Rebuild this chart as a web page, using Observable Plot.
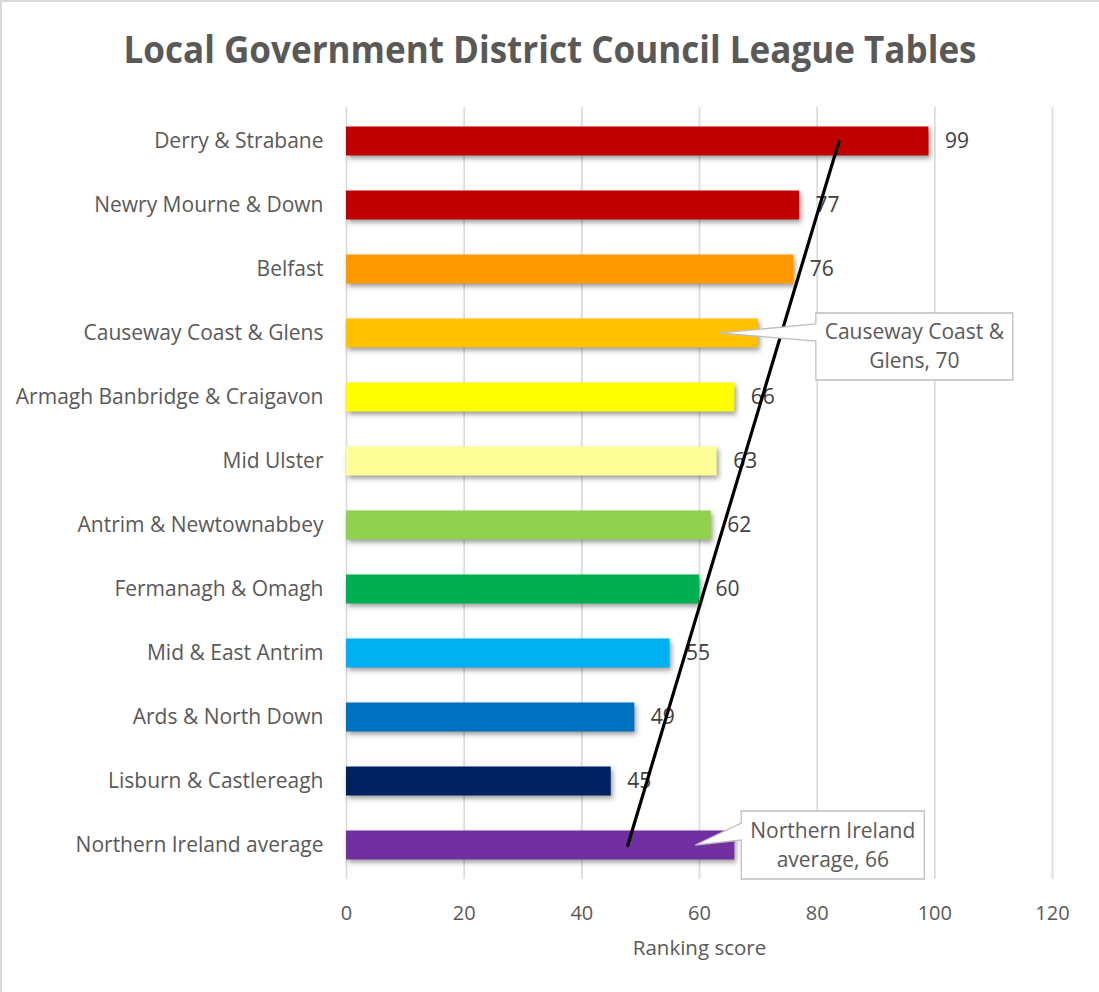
<!DOCTYPE html>
<html>
<head>
<meta charset="utf-8">
<script src="https://cdn.jsdelivr.net/npm/d3@7"></script>
<script src="https://cdn.jsdelivr.net/npm/@observablehq/plot@0.6"></script>
<style>
  html, body { margin: 0; padding: 0; background: #fff; }
  #chart { position: relative; width: 1099px; height: 992px; overflow: hidden; background: #fff; font-family: "Open Sans", sans-serif; }
  #borderTop { position: absolute; left: 0; top: 0; width: 1099px; height: 2px; background: #d9d9d9; z-index: 5; }
  #borderLeft { position: absolute; left: 0; top: 0; width: 2px; height: 992px; background: #d9d9d9; z-index: 5; }
  #titleBox { position: absolute; left: 0; top: 0; width: 1099px; height: 100px; }
  #plotBox { position: absolute; left: 0; top: 100px; }
  #plotBox g[aria-label="bar"] rect { filter: drop-shadow(2px 3px 2.5px rgba(0,0,0,0.38)); }
</style>
</head>
<body>
<div id="chart">
  <div id="titleBox"></div>
  <div id="plotBox"></div>
  <div id="borderTop"></div>
  <div id="borderLeft"></div>
</div>
<script>
// ---- Data ----
const titleText = "Local Government District Council League Tables";
const xLabel = "Ranking score";
const categories = [
  "Derry & Strabane",
  "Newry Mourne & Down",
  "Belfast",
  "Causeway Coast & Glens",
  "Armagh Banbridge & Craigavon",
  "Mid Ulster",
  "Antrim & Newtownabbey",
  "Fermanagh & Omagh",
  "Mid & East Antrim",
  "Ards & North Down",
  "Lisburn & Castlereagh",
  "Northern Ireland average"
];
const scores = [99, 77, 76, 70, 66, 63, 62, 60, 55, 49, 45, 66];
const barColors = [
  "#C00000", "#C00000", "#FF9900", "#FFC000", "#FFFF00", "#FFFF99",
  "#92D050", "#00B050", "#00B0F0", "#0070C0", "#002060", "#7030A0"
];
const xTicks = [0, 20, 40, 60, 80, 100, 120];
// Hand-drawn black line (data coordinates)
const trendX = [47.8, 83.7];
const trendY = ["Northern Ireland average", "Derry & Strabane"];
// Categories whose value label is shown as a callout
const calloutCategories = ["Causeway Coast & Glens", "Northern Ireland average"];

// ---- Build table ----
const data = categories.map((c, i) => ({category: c, value: scores[i], color: barColors[i]}));
const plainLabels = data.filter(d => !calloutCategories.includes(d.category));

// callout layout (pixel offsets from bar end / band centre)
const calloutLayout = [
  {tipDx: -39, boxDx: 58, boxW: 197, boxTop: -20, boxH: 67, baseTop: -9, baseBottom: 8},
  {tipDx: -39, boxDx: 7, boxW: 183, boxTop: -34, boxH: 68, baseTop: -22, baseBottom: -5}
];

function wrapText(s, maxChars) {
  const words = s.split(" ");
  const lines = [];
  let cur = "";
  for (const w of words) {
    if (cur && (cur + " " + w).length > maxChars) { lines.push(cur); cur = w; }
    else cur = cur ? cur + " " + w : w;
  }
  if (cur) lines.push(cur);
  return lines;
}

function calloutMark(index, scales, values, dimensions, context) {
  const g = d3.create("svg:g").attr("aria-label", "callouts");
  const xs = scales.x, ys = scales.y;
  const bw = ys.bandwidth ? ys.bandwidth() : 0;
  calloutCategories.forEach((cat, i) => {
    const d = data.find(r => r.category === cat);
    const L = calloutLayout[i];
    const xe = xs(d.value);
    const yc = ys(cat) + bw / 2;
    const tipX = xe + L.tipDx, tipY = yc;
    const bx = xe + L.boxDx, by = yc + L.boxTop;
    const path = [
      [bx, by], [bx + L.boxW, by], [bx + L.boxW, by + L.boxH], [bx, by + L.boxH],
      [bx, yc + L.baseBottom], [tipX, tipY], [bx, yc + L.baseTop], [bx, by]
    ];
    g.append("path")
      .attr("d", "M" + path.map(p => p.join(",")).join("L") + "Z")
      .attr("fill", "white")
      .attr("stroke", "#bfbfbf")
      .attr("stroke-width", 1.3);
    const lines = wrapText(`${d.category}, ${d.value}`, 16);
    const cx = bx + L.boxW / 2;
    const lh = 29;
    const firstY = by + L.boxH / 2 - (lines.length - 1) * lh / 2;
    lines.forEach((ln, j) => {
      g.append("text")
        .attr("x", cx)
        .attr("y", firstY + j * lh)
        .attr("dy", "0.35em")
        .attr("text-anchor", "middle")
        .attr("font-family", "'Open Sans', sans-serif")
        .attr("font-size", 21)
        .attr("fill", "#595959")
        .text(ln);
    });
  });
  return g.node();
}

// ---- Title ----
const tsvg = d3.select("#titleBox").append("svg")
  .attr("width", 1099).attr("height", 100);
tsvg.append("text")
  .attr("x", 550).attr("y", 63)
  .attr("text-anchor", "middle")
  .attr("font-family", "'Open Sans', sans-serif")
  .attr("font-weight", 700)
  .attr("font-size", 37)
  .attr("fill", "#595959")
  .attr("textLength", 853)
  .attr("lengthAdjust", "spacingAndGlyphs")
  .text(titleText);

// ---- Plot ----
const chart = Plot.plot({
  width: 1099,
  height: 892,
  marginLeft: 346,
  marginRight: 47,
  marginTop: 7,
  marginBottom: 113,
  style: {background: "transparent", fontFamily: "'Open Sans', sans-serif", color: "#595959"},
  x: {domain: [0, 120]},
  y: {domain: categories, padding: 0},
  marks: [
    Plot.ruleX(xTicks, {stroke: "#d9d9d9", strokeWidth: 1.6}),
    Plot.barX(data, {y: "category", x: "value", fill: "color", insetTop: 17.5, insetBottom: 17.5}),
    Plot.text(plainLabels, {y: "category", x: "value", text: d => String(d.value), dx: 16, textAnchor: "start", fontSize: 21, fill: "#404040"}),
    Plot.line(trendX.map((x, i) => ({x, y: trendY[i]})), {x: "x", y: "y", stroke: "black", strokeWidth: 3.2}),
    calloutMark,
    Plot.axisY({tickSize: 0, tickPadding: 23, fontSize: 21, label: null, color: "#595959"}),
    Plot.axisX({ticks: xTicks, tickSize: 0, tickPadding: 26, fontSize: 20, label: null, color: "#595959"}),
    Plot.text([xLabel], {frameAnchor: "bottom", lineAnchor: "top", dy: 61, fontSize: 20.5, fill: "#595959"})
  ]
});
document.getElementById("plotBox").appendChild(chart);
</script>
</body>
</html>
